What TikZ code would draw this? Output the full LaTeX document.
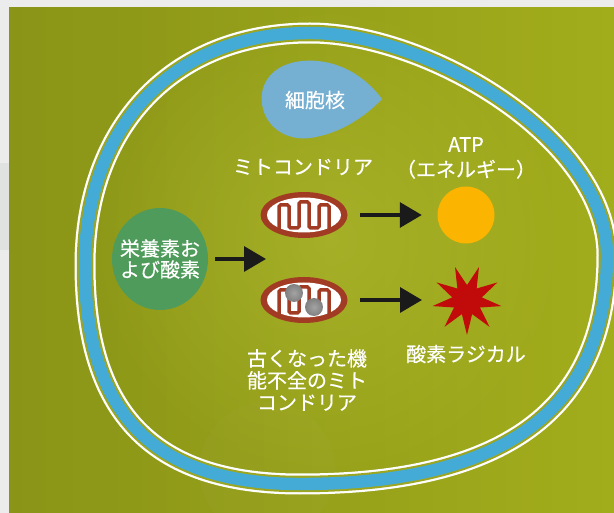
\documentclass[tikz,border=0pt]{standalone}
\usepackage{fontspec}
\newfontfamily\jpfont{Noto Sans CJK JP}[FakeBold=0.4]
\usetikzlibrary{arrows.meta,shapes.geometric,fadings}

\definecolor{pagegray}{HTML}{ECECEC}
\definecolor{stripgray}{HTML}{E0E1E1}
\definecolor{oliveL}{HTML}{8A9417}
\definecolor{oliveM}{HTML}{A7B125}
\definecolor{oliveR}{HTML}{A2AD1C}
\definecolor{glowc}{HTML}{B4BE35}
\definecolor{membrane}{HTML}{44AAD6}
\definecolor{gapgreen}{HTML}{9CA621}
\definecolor{nucleusblue}{HTML}{75AFD2}
\definecolor{nutrgreen}{HTML}{4F9B5B}
\definecolor{mitobrown}{HTML}{A23B24}
\definecolor{atpyellow}{HTML}{FBB400}
\definecolor{radicalred}{HTML}{C10A0A}
\definecolor{arrowblack}{HTML}{1A1A1A}

\tikzfading[name=softglow, inner color=transparent!0, outer color=transparent!100]

% outline of the cell membrane (centre line of the blue band)
\def\cellpath{(85,265) .. controls (85,130) and (170,33) .. (310,33)
  .. controls (430,33) and (607,140) .. (607,255)
  .. controls (607,420) and (490,484) .. (300,484)
  .. controls (150,484) and (85,410) .. (85,265) -- cycle}

\begin{document}
\begin{tikzpicture}[x=1pt,y=-1pt,
  lbl/.style={text=white, inner sep=0pt, align=center,
    font=\jpfont\fontsize{20}{22}\selectfont},
  blob/.style={inner sep=0pt, draw=none},
  mito/.style={blob, ellipse, fill=mitobrown, minimum width=87pt, minimum height=46pt},
  crista/.style={draw=mitobrown, line width=3.5pt, rounded corners=1.5pt},
  flow/.style={draw=arrowblack, line width=3.3pt, -{Triangle[length=22pt,width=25pt]}}]
\useasboundingbox (0,0) rectangle (614,513);

% page and coloured panel
\fill[pagegray] (0,0) rectangle (614,513);
\fill[stripgray] (0,163) rectangle (9,250);
\shade[left color=oliveL, middle color=oliveM, right color=oliveR] (9,8) rectangle (614,513);
\fill[glowc, fill opacity=0.5, path fading=softglow] (330,240) circle (240);
\fill[white, opacity=0.02] (267,470) circle (68);

% cell membrane: white rim, thin gap, blue band
\draw[white, line width=21pt] \cellpath;
\draw[gapgreen, line width=16.5pt] \cellpath;
\draw[membrane, line width=12.4pt] \cellpath;

% nucleus
\fill[nucleusblue] (382,99) .. controls (362,72) and (332,58) .. (302,61)
  .. controls (272,64) and (259,84) .. (262,104)
  .. controls (265,126) and (285,141) .. (310,138)
  .. controls (340,134) and (366,116) .. (382,99) -- cycle;
\node[lbl] (nucleuslbl) at (315,100) {細胞核};

% nutrients and oxygen
\node[blob, ellipse, fill=nutrgreen, minimum width=96pt, minimum height=102pt] (nutr) at (160,259) {};
\node[lbl, font=\jpfont\fontsize{20}{21}\selectfont] (nutrlbl) at (nutr) {栄養素お\\よび酸素};

% mitochondria
\node[mito] (mitoA) at (304,215) {};
\node[mito] (mitoB) at (304,300) {};
\foreach \m in {mitoA,mitoB}{
  \fill[white] (\m) ellipse (37pt and 17.5pt);
  \begin{scope}[shift={(\m.center)}]
    \draw[crista] (-25,16) -- (-25,-10) -- (-15,-10) -- (-15,13) -- (-5,13)
      -- (-5,-13) -- (5,-13) -- (5,13) -- (15,13) -- (15,-10) -- (25,-10) -- (25,16);
  \end{scope}
}
% damaged particles in the old mitochondrion
\shade[inner color=black!36, outer color=black!50] (294,293) circle (9);
\shade[inner color=black!36, outer color=black!50] (314,307) circle (9);

\node[lbl] (mitolbl) at (303,167) {ミトコンドリア};
\node[lbl] (oldlbl) at (307,380) {古くなった機\\能不全のミト\\コンドリア};

% ATP
\node[blob, circle, fill=atpyellow, minimum size=57pt] (atp) at (466,215) {};
\node[lbl, font=\jpfont\fontsize{20}{25}\selectfont] (atplbl) at (466,158) {ATP\\（エネルギー）};

% oxygen radical
\coordinate (radical) at (467,300);
\fill[radicalred] ([shift={(90:35)}]radical)
  \foreach \k in {1,...,17}{ -- ([shift={(90+20*\k:{35-20*mod(\k,2)})}]radical) } -- cycle;
\node[lbl] (radlbl) at (466,354) {酸素ラジカル};

% flows
\coordinate (fork) at (266,259);
\draw[flow, shorten <=7pt] (nutr) -- (fork);
\draw[flow, shorten <=12.5pt, shorten >=15.5pt] (mitoA) -- (atp);
\draw[flow, shorten <=12.5pt, shorten >=45pt] (mitoB) -- (radical);
\end{tikzpicture}
\end{document}
